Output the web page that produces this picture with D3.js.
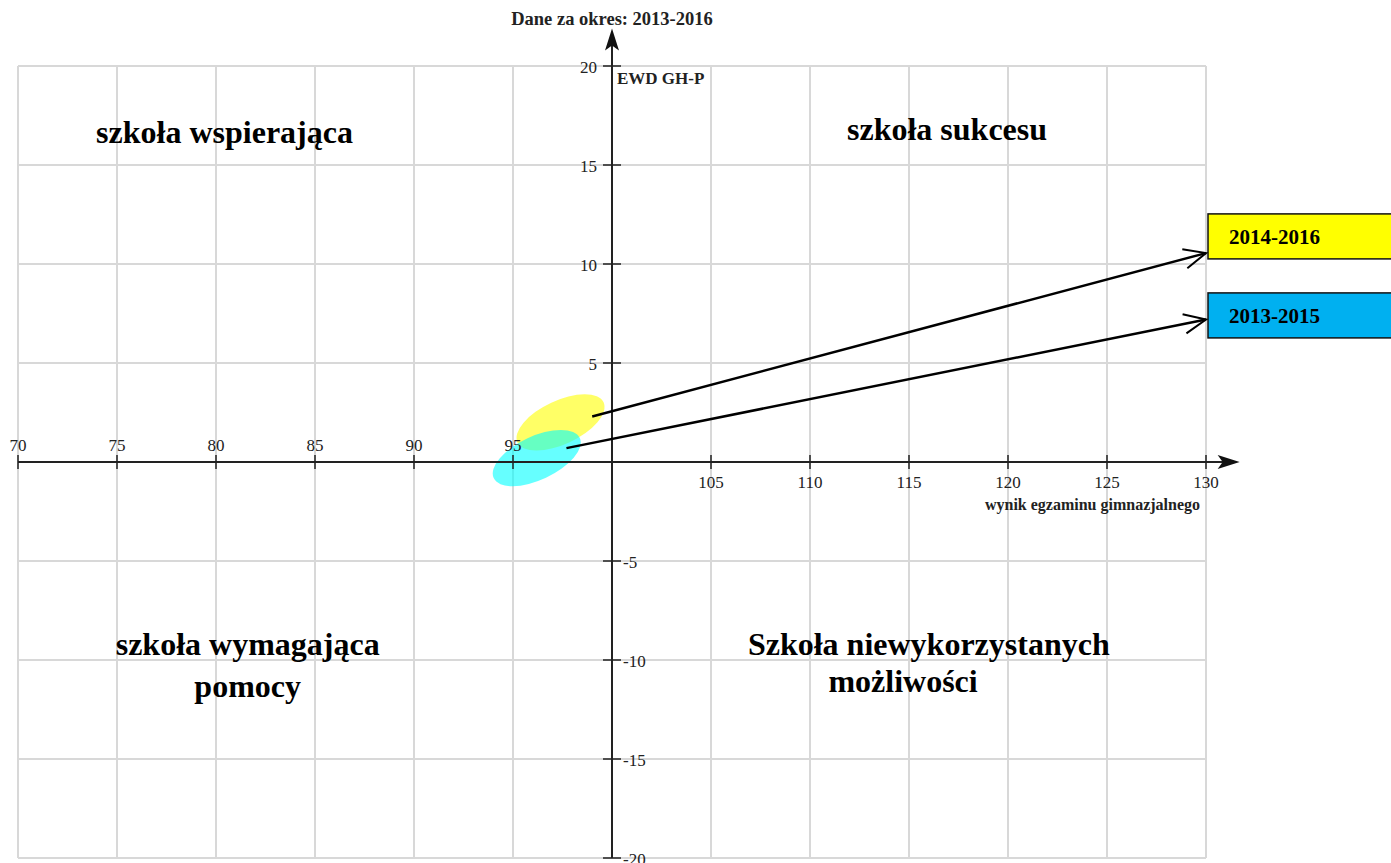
<!DOCTYPE html>
<html><head><meta charset="utf-8">
<script src="https://cdn.jsdelivr.net/npm/d3@7/dist/d3.min.js"></script>
<style>
html,body{margin:0;padding:0;background:#fff;}
svg{display:block;font-family:"Liberation Serif","Times New Roman",serif;}
</style></head>
<body>
<svg id="chart" width="1391" height="863"></svg>
<script>
// ---- data ----
const xTicks = [70, 75, 80, 85, 90, 95, 100, 105, 110, 115, 120, 125, 130];
const yTicks = [-20, -15, -10, -5, 0, 5, 10, 15, 20];
const seriesNames = ["2014-2016", "2013-2015"];
const seriesX = [97.4, 96.2];        // wynik egzaminu (centre)
const seriesY = [2.0, 0.2];          // EWD (centre)
const seriesRx = [2.4, 2.4];         // spread along major axis (x units)
const seriesRy = [1.1, 1.1];         // spread along minor axis
const seriesColors = ["#ffff00", "#00ffff"];
const legendColors = ["#ffff00", "#00b0f0"];
const arrowStartX = [99.0, 97.7];
const arrowStartY = [2.3, 0.7];
const arrowEndY = [10.55, 7.2];
const legendTopY = [12.53, 8.54];
const quadrantTexts = ["szkoła wspierająca", "szkoła sukcesu", "szkoła wymagająca", "pomocy", "Szkoła niewykorzystanych", "możliwości"];
const quadrantTextX = [80.43, 116.92, 81.6, 81.6, 116.0, 114.7];
const quadrantTextY = [16.11, 16.26, -9.75, -11.85, -9.75, -11.62];

// ---- drawing ----
const svg = d3.select("#chart");
const x = d3.scaleLinear().domain([70, 130]).range([18, 1206]);
const y = d3.scaleLinear().domain([-20, 20]).range([858, 66]);
const x0 = x(100), y0 = y(0);

// grid
const grid = svg.append("g");
grid.selectAll("line.v").data(xTicks).join("line")
  .attr("x1", d => x(d)).attr("x2", d => x(d)).attr("y1", y(20)).attr("y2", y(-20))
  .attr("stroke", "#d8d8d8").attr("stroke-width", 2);
grid.selectAll("line.h").data(yTicks).join("line")
  .attr("y1", d => y(d)).attr("y2", d => y(d)).attr("x1", x(70)).attr("x2", x(130))
  .attr("stroke", "#d8d8d8").attr("stroke-width", 2);

// ellipses
const pxPerUnitX = x(1) - x(0), pxPerUnitY = y(0) - y(1);
svg.append("g").selectAll("ellipse").data(seriesNames).join("ellipse")
  .attr("cx", 0).attr("cy", 0)
  .attr("rx", (d, i) => seriesRx[i] * pxPerUnitX)
  .attr("ry", (d, i) => seriesRy[i] * pxPerUnitY)
  .attr("transform", (d, i) => `translate(${x(seriesX[i])},${y(seriesY[i])}) rotate(-25)`)
  .attr("fill", (d, i) => seriesColors[i]).attr("fill-opacity", 0.6);

// axes
const axisG = svg.append("g").attr("stroke", "#222").attr("stroke-width", 2);
axisG.append("line").attr("x1", x(70)).attr("x2", x(131.5)).attr("y1", y0).attr("y2", y0);
axisG.append("line").attr("x1", x0).attr("x2", x0).attr("y1", y(-20)).attr("y2", y(21.5));
svg.append("path").attr("d", `M${x(131.7)},${y0} l-22,-7 l5,7 l-5,7 Z`).attr("fill", "#111");
svg.append("path").attr("d", `M${x0},${y(21.9)} l-7,22 l7,-5 l7,5 Z`).attr("fill", "#111");

// x ticks
const xt = svg.append("g");
xt.selectAll("line").data(xTicks.filter(d => d !== 100)).join("line")
  .attr("x1", d => x(d)).attr("x2", d => x(d)).attr("y1", y0 - 7).attr("y2", y0 + 7)
  .attr("stroke", "#222").attr("stroke-width", 1.5);
xt.selectAll("text").data(xTicks.filter(d => d !== 100)).join("text")
  .attr("x", d => x(d)).attr("y", d => d < 100 ? y0 - 11 : y0 + 26)
  .attr("text-anchor", "middle").attr("font-size", 17).attr("fill", "#222").text(d => d);

// y ticks
const yt = svg.append("g");
yt.selectAll("line").data(yTicks.filter(d => d !== 0)).join("line")
  .attr("x1", x0 - 9).attr("x2", x0 + 9).attr("y1", d => y(d)).attr("y2", d => y(d))
  .attr("stroke", "#222").attr("stroke-width", 1.5);
yt.selectAll("text").data(yTicks.filter(d => d !== 0)).join("text")
  .attr("x", d => d > 0 ? x0 - 15 : x0 + 11).attr("y", d => y(d) + 7)
  .attr("text-anchor", d => d > 0 ? "end" : "start")
  .attr("font-size", 17).attr("fill", "#222").text(d => d);

// axis titles
svg.append("text").attr("x", x0 + 5).attr("y", 84).attr("font-size", 17)
  .attr("font-weight", "bold").attr("fill", "#222").text("EWD GH-P");
svg.append("text").attr("x", x(129.7)).attr("y", y0 + 48).attr("font-size", 16)
  .attr("font-weight", "bold").attr("text-anchor", "end").attr("fill", "#222").text("wynik egzaminu gimnazjalnego");
svg.append("text").attr("x", x0).attr("y", 25).attr("font-size", 18.5)
  .attr("font-weight", "bold").attr("text-anchor", "middle").attr("fill", "#222").text("Dane za okres: 2013-2016");

// quadrant labels
svg.append("g").selectAll("text").data(quadrantTexts).join("text")
  .attr("x", (d, i) => x(quadrantTextX[i])).attr("y", (d, i) => y(quadrantTextY[i]))
  .attr("text-anchor", "middle").attr("font-size", 32).attr("font-weight", "bold")
  .attr("fill", "#000").text(d => d);

// legend boxes
const lg = svg.append("g");
seriesNames.forEach((name, i) => {
  const top = y(legendTopY[i]);
  lg.append("rect").attr("x", x(130) + 2).attr("y", top).attr("width", 200).attr("height", 45)
    .attr("fill", legendColors[i]).attr("stroke", "#111").attr("stroke-width", 1.5);
  lg.append("text").attr("x", x(130) + 23).attr("y", top + 30).attr("font-size", 21)
    .attr("font-weight", "bold").attr("fill", "#000").text(name);
});

// arrows
const ar = svg.append("g").attr("stroke", "#000").attr("stroke-width", 2.5).attr("fill", "none");
seriesNames.forEach((name, i) => {
  const sx = x(arrowStartX[i]), sy = y(arrowStartY[i]);
  const ex = x(130), ey = y(arrowEndY[i]);
  ar.append("line").attr("x1", sx).attr("y1", sy).attr("x2", ex).attr("y2", ey);
  const ang = Math.atan2(ey - sy, ex - sx);
  const L = 24, spread = 0.42;
  const p1 = [ex - L * Math.cos(ang - spread), ey - L * Math.sin(ang - spread)];
  const p2 = [ex - L * Math.cos(ang + spread), ey - L * Math.sin(ang + spread)];
  ar.append("path").attr("d", `M${p1[0]},${p1[1]} L${ex},${ey} L${p2[0]},${p2[1]}`).attr("stroke-width", 2);
});
</script>
</body></html>
